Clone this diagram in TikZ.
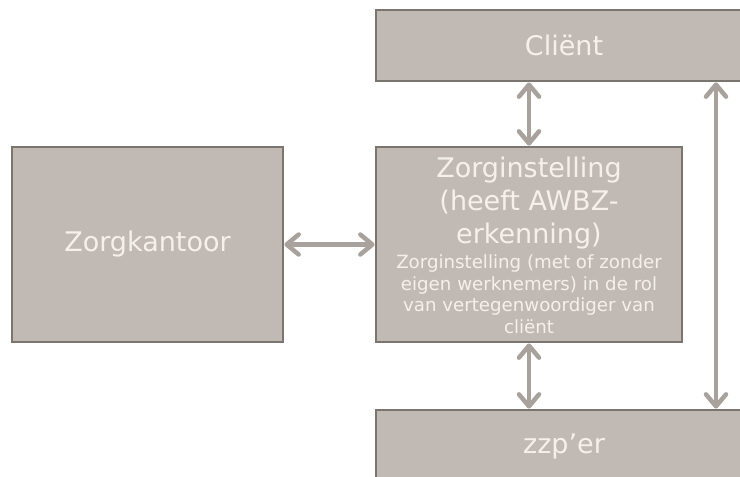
\documentclass[tikz,border=0pt]{standalone}
\usepackage{fontspec}
\setmainfont{DejaVu Sans}
\usetikzlibrary{arrows.meta}
\definecolor{boxfill}{HTML}{C1BAB4}
\definecolor{boxline}{HTML}{7A756F}
\definecolor{arrowc}{HTML}{A9A29C}
\definecolor{txt}{HTML}{F5F1EA}
\begin{document}
\begin{tikzpicture}[x=1pt,y=-1pt,
  box/.style={draw=boxline, fill=boxfill, line width=2.8pt, inner sep=0pt, text=txt, align=center},
  bigtext/.style={font=\fontsize{27}{33}\selectfont, text=txt, align=center, inner sep=0pt},
  smalltext/.style={font=\fontsize{18.2}{21.7}\selectfont, text=txt, align=center, inner sep=0pt},
  link/.style={draw=arrowc, line width=4.5pt,
    {Straight Barb[length=12pt,width=20pt,round]}-{Straight Barb[length=12pt,width=20pt,round]}}]
\useasboundingbox (0,0) rectangle (740,477);
\node[box, minimum width=376pt, minimum height=71pt, font=\fontsize{27}{33}\selectfont] (client) at (564,45.5) {Cliënt};
\node[box, minimum width=306pt, minimum height=195pt] (zi) at (529,244.5) {};
\node[box, minimum width=271pt, minimum height=195pt, font=\fontsize{27}{33}\selectfont] (zk) at (147.5,244.5) {Zorgkantoor};
\node[box, minimum width=376pt, minimum height=72pt, font=\fontsize{27}{33}\selectfont] (zzp) at (564,446) {zzp’er};
\node[bigtext, anchor=north] (zititle) at (529,156.5) {Zorginstelling\\(heeft AWBZ-\\erkenning)};
\node[smalltext, anchor=north] (zisub) at (529,254.5) {Zorginstelling (met of zonder\\eigen werknemers) in de rol\\van vertegenwoordiger van\\cliënt};
\coordinate (rtop) at (716,0);
\draw[link] (zi.north) -- (zi.north |- client.south);
\draw[link] (zi.south) -- (zi.south |- zzp.north);
\draw[link] (zk.east) -- (zi.west);
\draw[link] (client.south -| rtop) -- (zzp.north -| rtop);
\end{tikzpicture}
\end{document}
